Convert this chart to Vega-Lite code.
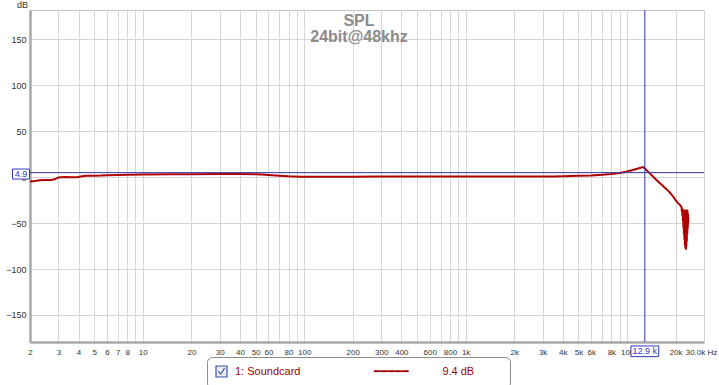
{
  "$schema": "https://vega.github.io/schema/vega-lite/v6.json",
  "width": 674,
  "height": 332,
  "autosize": {"type": "none"},
  "padding": {"left": 30, "top": 10, "right": 15, "bottom": 43},
  "background": "white",
  "config": {
    "view": {"stroke": "#c4c4c4", "strokeWidth": 1},
    "font": "Liberation Sans"
  },
  "title": {
    "text": "SPL",
    "subtitle": "24bit@48khz",
    "anchor": "middle",
    "orient": "top",
    "offset": -45,
    "dx": -8,
    "font": "Liberation Sans",
    "fontSize": 16,
    "fontWeight": "bold",
    "color": "#8c8c8c",
    "subtitleFont": "Liberation Sans",
    "subtitleFontSize": 16,
    "subtitleFontWeight": "bold",
    "subtitleColor": "#8c8c8c",
    "subtitlePadding": 0
  },
  "datasets": {
    "curve": [
      {"f": 2, "db": -4.8, "series": "1: Soundcard"},
      {"f": 2.15, "db": -4.3, "series": "1: Soundcard"},
      {"f": 2.3, "db": -3.5, "series": "1: Soundcard"},
      {"f": 2.5, "db": -3.2, "series": "1: Soundcard"},
      {"f": 2.7, "db": -3.1, "series": "1: Soundcard"},
      {"f": 2.85, "db": -2.4, "series": "1: Soundcard"},
      {"f": 3.0, "db": -0.3, "series": "1: Soundcard"},
      {"f": 3.3, "db": 0.1, "series": "1: Soundcard"},
      {"f": 3.6, "db": 0.0, "series": "1: Soundcard"},
      {"f": 3.9, "db": -0.1, "series": "1: Soundcard"},
      {"f": 4.2, "db": 1.0, "series": "1: Soundcard"},
      {"f": 4.5, "db": 1.5, "series": "1: Soundcard"},
      {"f": 5.0, "db": 1.6, "series": "1: Soundcard"},
      {"f": 5.5, "db": 1.8, "series": "1: Soundcard"},
      {"f": 6.0, "db": 2.2, "series": "1: Soundcard"},
      {"f": 7, "db": 2.4, "series": "1: Soundcard"},
      {"f": 8, "db": 2.7, "series": "1: Soundcard"},
      {"f": 10, "db": 3.0, "series": "1: Soundcard"},
      {"f": 15, "db": 3.1, "series": "1: Soundcard"},
      {"f": 20, "db": 3.2, "series": "1: Soundcard"},
      {"f": 30, "db": 3.3, "series": "1: Soundcard"},
      {"f": 40, "db": 3.3, "series": "1: Soundcard"},
      {"f": 50, "db": 3.1, "series": "1: Soundcard"},
      {"f": 55, "db": 2.8, "series": "1: Soundcard"},
      {"f": 60, "db": 2.3, "series": "1: Soundcard"},
      {"f": 70, "db": 1.5, "series": "1: Soundcard"},
      {"f": 80, "db": 0.9, "series": "1: Soundcard"},
      {"f": 95, "db": 0.5, "series": "1: Soundcard"},
      {"f": 130, "db": 0.4, "series": "1: Soundcard"},
      {"f": 200, "db": 0.5, "series": "1: Soundcard"},
      {"f": 300, "db": 0.6, "series": "1: Soundcard"},
      {"f": 500, "db": 0.7, "series": "1: Soundcard"},
      {"f": 800, "db": 0.8, "series": "1: Soundcard"},
      {"f": 1000, "db": 0.8, "series": "1: Soundcard"},
      {"f": 1500, "db": 0.8, "series": "1: Soundcard"},
      {"f": 2000, "db": 0.7, "series": "1: Soundcard"},
      {"f": 3000, "db": 0.7, "series": "1: Soundcard"},
      {"f": 3500, "db": 0.8, "series": "1: Soundcard"},
      {"f": 4000, "db": 1.0, "series": "1: Soundcard"},
      {"f": 5000, "db": 1.4, "series": "1: Soundcard"},
      {"f": 6000, "db": 1.9, "series": "1: Soundcard"},
      {"f": 7000, "db": 2.6, "series": "1: Soundcard"},
      {"f": 8000, "db": 3.5, "series": "1: Soundcard"},
      {"f": 9000, "db": 4.6, "series": "1: Soundcard"},
      {"f": 10000, "db": 6.2, "series": "1: Soundcard"},
      {"f": 11000, "db": 8.0, "series": "1: Soundcard"},
      {"f": 12000, "db": 10.0, "series": "1: Soundcard"},
      {"f": 12600, "db": 11.0, "series": "1: Soundcard"},
      {"f": 12900, "db": 9.4, "series": "1: Soundcard"},
      {"f": 13500, "db": 6.0, "series": "1: Soundcard"},
      {"f": 14200, "db": 2.2, "series": "1: Soundcard"},
      {"f": 15100, "db": -2.5, "series": "1: Soundcard"},
      {"f": 16200, "db": -7.5, "series": "1: Soundcard"},
      {"f": 17300, "db": -12, "series": "1: Soundcard"},
      {"f": 18400, "db": -16.5, "series": "1: Soundcard"},
      {"f": 19200, "db": -20.5, "series": "1: Soundcard"},
      {"f": 20000, "db": -25, "series": "1: Soundcard"},
      {"f": 20800, "db": -28.5, "series": "1: Soundcard"},
      {"f": 21600, "db": -31.5, "series": "1: Soundcard"},
      {"f": 21800, "db": -33, "series": "1: Soundcard"},
      {"f": 21880, "db": -38, "series": "1: Soundcard"},
      {"f": 21960, "db": -34, "series": "1: Soundcard"},
      {"f": 22040, "db": -42, "series": "1: Soundcard"},
      {"f": 22120, "db": -35, "series": "1: Soundcard"},
      {"f": 22200, "db": -48, "series": "1: Soundcard"},
      {"f": 22280, "db": -36, "series": "1: Soundcard"},
      {"f": 22360, "db": -55, "series": "1: Soundcard"},
      {"f": 22440, "db": -35, "series": "1: Soundcard"},
      {"f": 22520, "db": -62, "series": "1: Soundcard"},
      {"f": 22600, "db": -37, "series": "1: Soundcard"},
      {"f": 22680, "db": -68, "series": "1: Soundcard"},
      {"f": 22760, "db": -36, "series": "1: Soundcard"},
      {"f": 22840, "db": -74, "series": "1: Soundcard"},
      {"f": 22920, "db": -38, "series": "1: Soundcard"},
      {"f": 23000, "db": -77, "series": "1: Soundcard"},
      {"f": 23080, "db": -36, "series": "1: Soundcard"},
      {"f": 23160, "db": -79, "series": "1: Soundcard"},
      {"f": 23240, "db": -37, "series": "1: Soundcard"},
      {"f": 23320, "db": -76, "series": "1: Soundcard"},
      {"f": 23400, "db": -35, "series": "1: Soundcard"},
      {"f": 23480, "db": -70, "series": "1: Soundcard"},
      {"f": 23560, "db": -38, "series": "1: Soundcard"},
      {"f": 23640, "db": -62, "series": "1: Soundcard"},
      {"f": 23720, "db": -36, "series": "1: Soundcard"},
      {"f": 23800, "db": -56, "series": "1: Soundcard"},
      {"f": 23880, "db": -40, "series": "1: Soundcard"},
      {"f": 23960, "db": -50, "series": "1: Soundcard"},
      {"f": 24000, "db": -44, "series": "1: Soundcard"}
    ],
    "cursor": [
      {"f": 12900, "db": 4.9, "flabel": "12.9 k", "dblabel": "4.9"}
    ]
  },
  "layer": [
    {
      "data": {"name": "curve"},
      "mark": {"type": "line", "strokeWidth": 2, "interpolate": "linear", "color": "#b00000"},
      "encoding": {
        "x": {
          "field": "f",
          "type": "quantitative",
          "scale": {"type": "log", "domain": [2, 30000]},
          "axis": {
            "title": null,
            "values": [2,3,4,5,6,7,8,9,10,20,30,40,50,60,70,80,90,100,200,300,400,500,600,700,800,900,1000,2000,3000,4000,5000,6000,7000,8000,9000,10000,20000,30000],
            "labelExpr": "datum.value == 30000 ? '30.0k Hz' : (indexof([9,70,90,500,700,900,7000,9000], datum.value) >= 0 ? '' : (datum.value >= 1000 ? (datum.value / 1000) + 'k' : '' + datum.value))",
            "labelOffset": {"condition": {"test": "datum.value == 30000", "value": -3}, "value": 0},
            "grid": true,
            "gridColor": "#d6d6d6",
            "gridWidth": 1,
            "ticks": false,
            "labelFont": "Liberation Sans",
            "labelFontSize": 8,
            "labelColor": "#333333",
            "labelPadding": 6,
            "labelFlush": false,
            "labelOverlap": false,
            "labelBound": false,
            "domainColor": "#a8a8a8",
            "domainWidth": 2.5,
            "zindex": 0
          }
        },
        "y": {
          "field": "db",
          "type": "quantitative",
          "scale": {"domain": [-179.4, 181.9], "nice": false, "zero": false},
          "axis": {
            "title": "dB",
            "titleAngle": 0,
            "titleX": -8,
            "titleY": -3,
            "titleAlign": "center",
            "titleBaseline": "alphabetic",
            "titleFont": "Liberation Sans",
            "titleFontSize": 9,
            "titleFontWeight": "normal",
            "titleColor": "#333333",
            "values": [-150, -100, -50, 0, 50, 100, 150],
            "grid": true,
            "gridColor": "#d6d6d6",
            "gridWidth": 1,
            "ticks": false,
            "labelFont": "Liberation Sans",
            "labelFontSize": 9,
            "labelColor": "#333333",
            "labelPadding": 4,
            "labelOverlap": false,
            "domainColor": "#a8a8a8",
            "domainWidth": 2.5,
            "zindex": 0
          }
        },
        "opacity": {
          "field": "series",
          "type": "ordinal",
          "scale": {"domain": ["1: Soundcard"], "range": [1]},
          "legend": {
            "title": null,
            "orient": "none",
            "legendX": 177,
            "legendY": 347,
            "padding": 8,
            "strokeColor": "#8c8c8c",
            "fillColor": "#ffffff",
            "cornerRadius": 5,
            "symbolType": "M-1,-1H1V1H-1Z M-0.55,-0.05L-0.15,0.45L0.55,-0.6",
            "symbolSize": 121,
            "symbolStrokeWidth": 1.2,
            "symbolStrokeColor": "#3a4fa0",
            "symbolFillColor": "#e6ebf6",
            "labelOffset": 7,
            "labelLimit": 500,
            "labelFont": "Liberation Sans",
            "labelFontSize": 11,
            "labelColor": "#a00000",
            "labelExpr": "datum.label + '\u00a0\u00a0\u00a0\u00a0\u00a0\u00a0\u00a0\u00a0\u00a0\u00a0\u00a0\u00a0\u00a0\u00a0\u00a0\u00a0\u00a0\u00a0\u00a0\u00a0\u00a0\u00a0\u00a0\u00a0\u2501\u2501\u2501\u2501\u2501\u00a0\u00a0\u00a0\u00a0\u00a0\u00a0\u00a0\u00a0\u00a0\u00a0\u00a09.4 dB\u00a0\u00a0\u00a0\u00a0\u00a0\u00a0\u00a0\u00a0\u00a0\u200b'",
            "encode": {
              "symbols": {
                "update": {
                  "stroke": {"value": "#3a4fa0"},
                  "fill": {"value": "#e6ebf6"},
                  "strokeWidth": {"value": 1.2}
                }
              }
            }
          }
        }
      }
    },
    {
      "data": {"name": "cursor"},
      "mark": {"type": "rule", "color": "#3535a8", "strokeWidth": 1},
      "encoding": {
        "x": {"field": "f", "type": "quantitative", "scale": {"type": "log", "domain": [2, 30000]}}
      }
    },
    {
      "data": {"name": "cursor"},
      "mark": {"type": "rule", "color": "#3535a8", "strokeWidth": 1},
      "encoding": {
        "y": {"field": "db", "type": "quantitative", "scale": {"domain": [-179.4, 181.9], "nice": false, "zero": false}}
      }
    },
    {
      "data": {"name": "cursor"},
      "mark": {"type": "point", "shape": "M-1.7,-1H1.7V1H-1.7Z", "size": 100, "filled": false, "fill": "#ffffff", "fillOpacity": 1, "stroke": "#3535c8", "strokeWidth": 1, "opacity": 1, "xOffset": -9, "yOffset": 1.4},
      "encoding": {
        "x": {"datum": 2, "type": "quantitative", "scale": {"type": "log", "domain": [2, 30000]}},
        "y": {"field": "db", "type": "quantitative", "scale": {"domain": [-179.4, 181.9], "nice": false, "zero": false}}
      }
    },
    {
      "data": {"name": "cursor"},
      "mark": {"type": "text", "font": "Liberation Sans", "fontSize": 9, "color": "#3535c8", "align": "center", "baseline": "middle", "xOffset": -9, "yOffset": 1.4},
      "encoding": {
        "x": {"datum": 2, "type": "quantitative", "scale": {"type": "log", "domain": [2, 30000]}},
        "y": {"field": "db", "type": "quantitative", "scale": {"domain": [-179.4, 181.9], "nice": false, "zero": false}},
        "text": {"field": "dblabel"}
      }
    },
    {
      "data": {"name": "cursor"},
      "mark": {"type": "point", "shape": "M-2.6,-1H2.6V1H-2.6Z", "size": 114, "filled": false, "fill": "#ffffff", "fillOpacity": 1, "stroke": "#3535c8", "strokeWidth": 1, "opacity": 1, "yOffset": 9.3},
      "encoding": {
        "x": {"field": "f", "type": "quantitative", "scale": {"type": "log", "domain": [2, 30000]}},
        "y": {"datum": -179.4, "type": "quantitative", "scale": {"domain": [-179.4, 181.9], "nice": false, "zero": false}}
      }
    },
    {
      "data": {"name": "cursor"},
      "mark": {"type": "text", "font": "Liberation Sans", "fontSize": 9, "color": "#3535c8", "align": "center", "baseline": "middle", "yOffset": 9.3},
      "encoding": {
        "x": {"field": "f", "type": "quantitative", "scale": {"type": "log", "domain": [2, 30000]}},
        "y": {"datum": -179.4, "type": "quantitative", "scale": {"domain": [-179.4, 181.9], "nice": false, "zero": false}},
        "text": {"field": "flabel"}
      }
    }
  ]
}
